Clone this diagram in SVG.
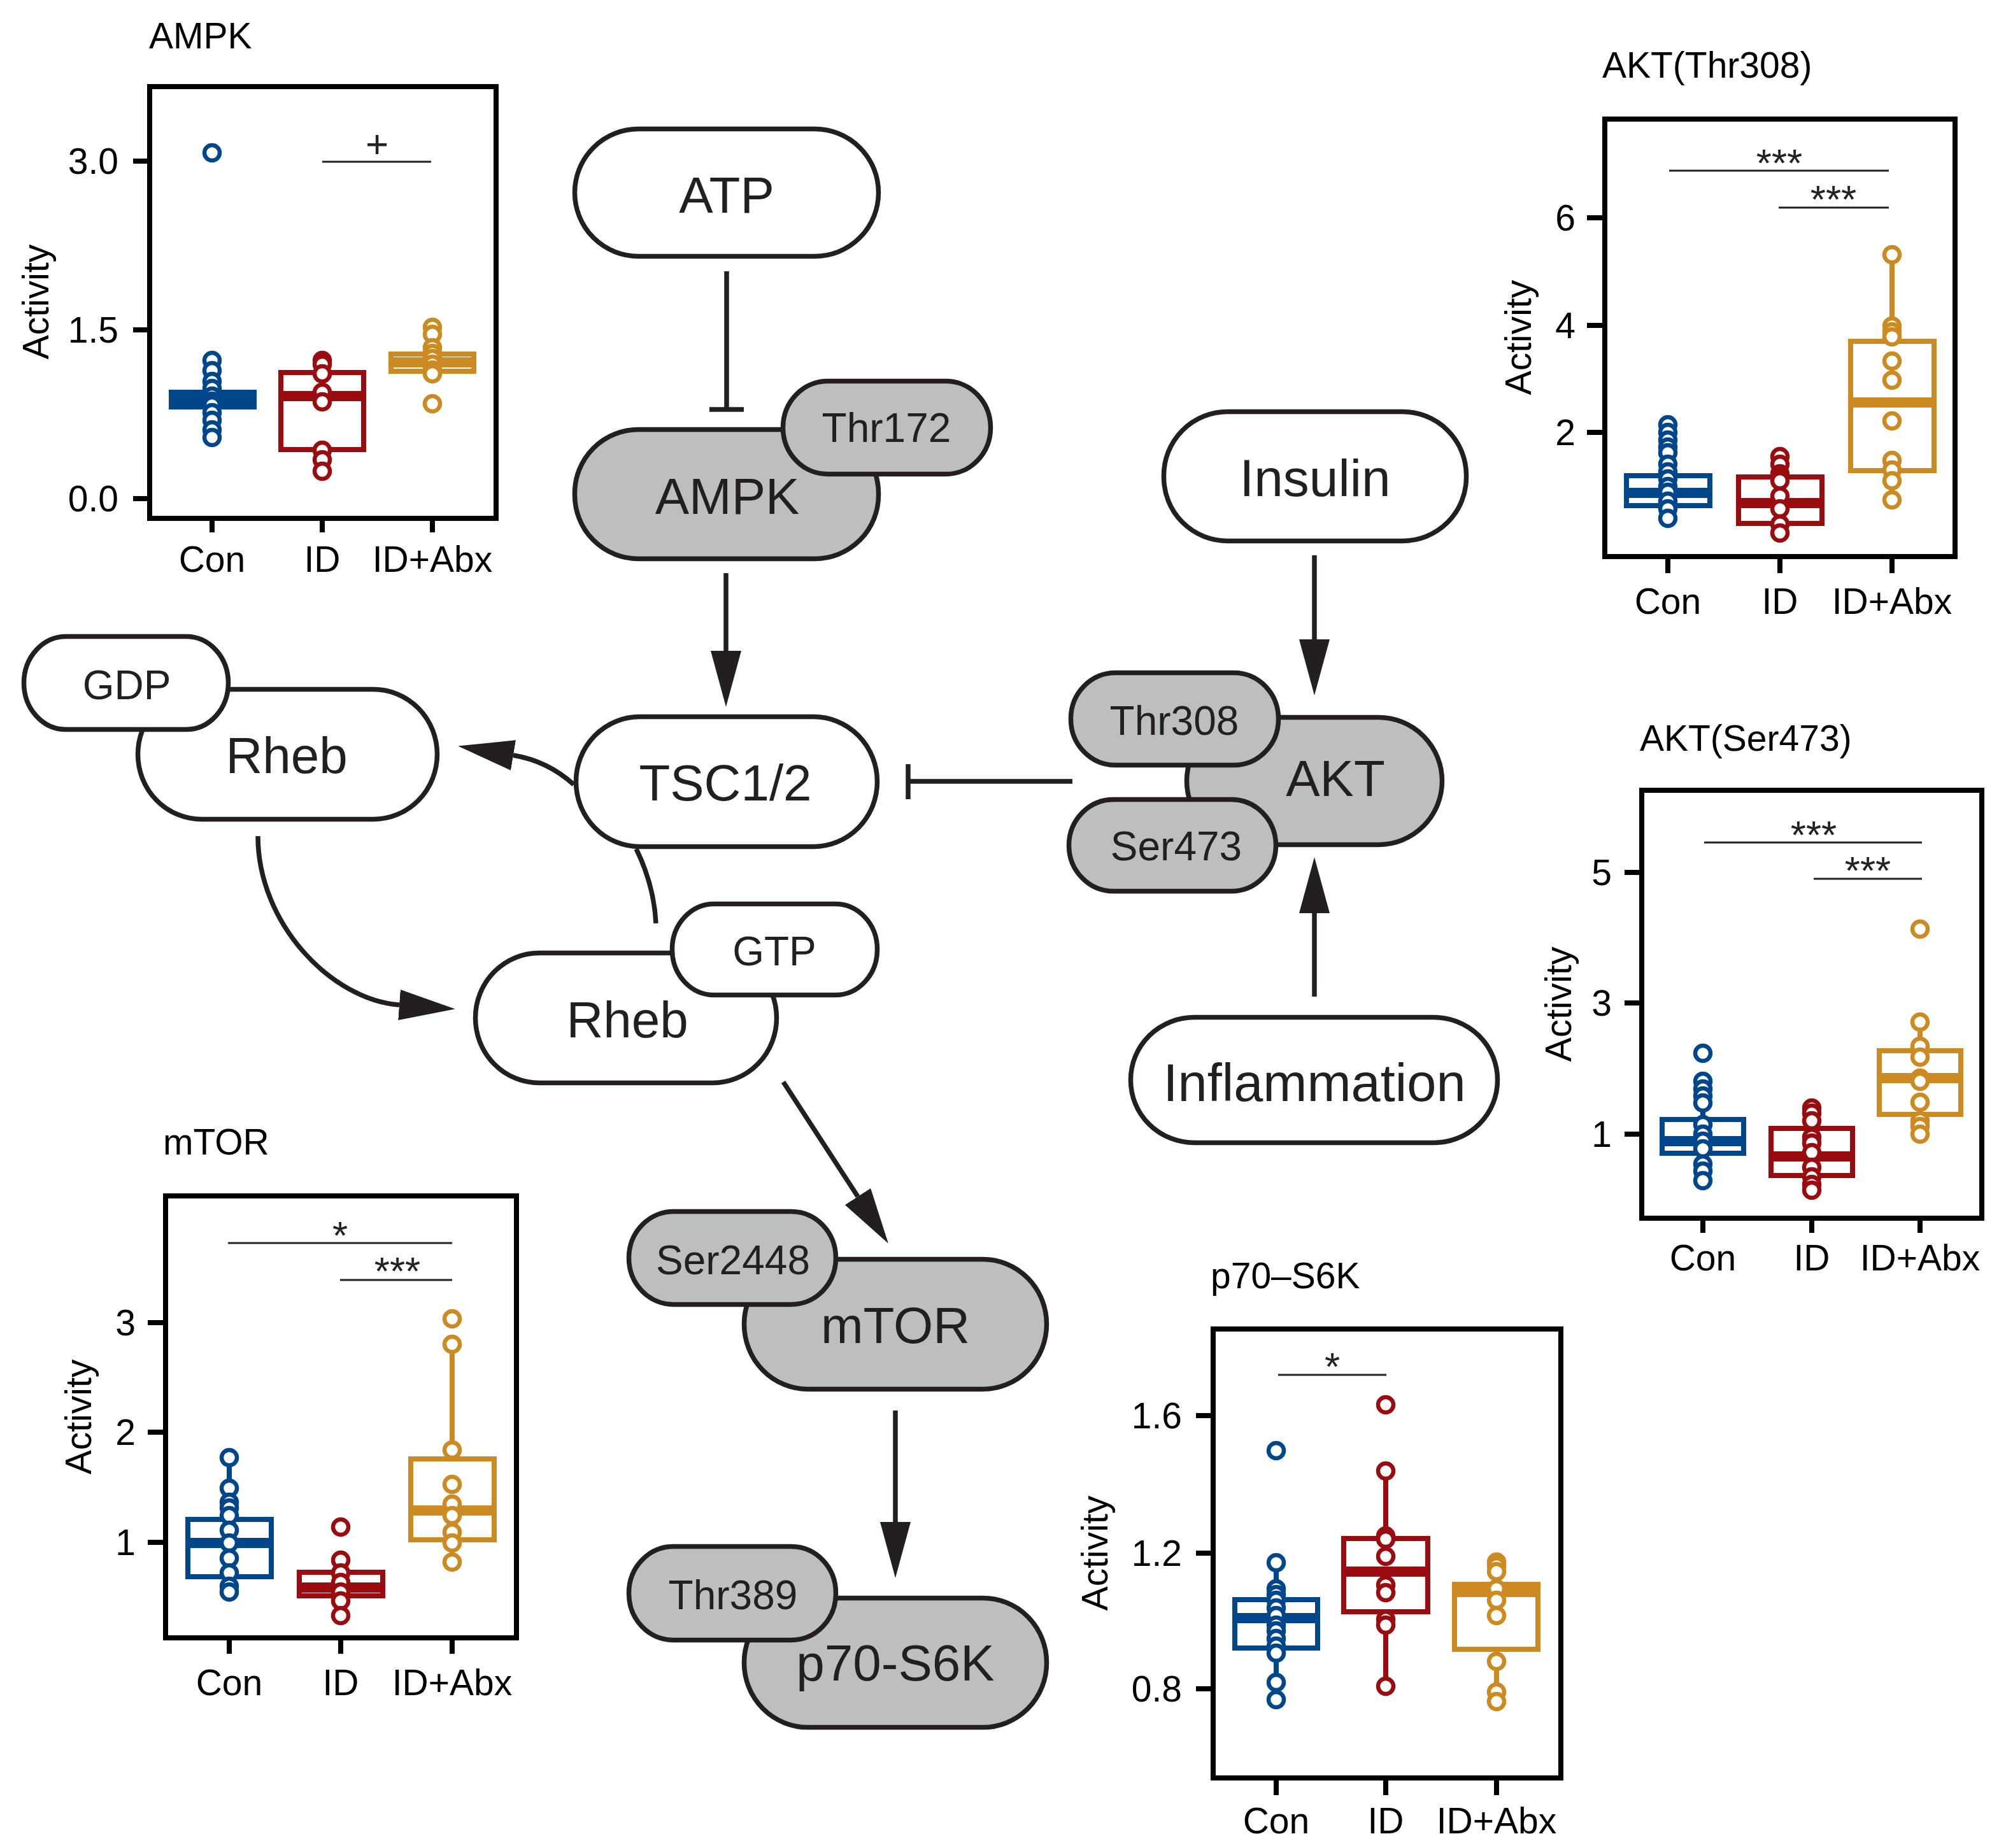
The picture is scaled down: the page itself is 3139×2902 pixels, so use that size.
<svg xmlns="http://www.w3.org/2000/svg" width="3139" height="2902" viewBox="0 0 3139 2902">
<style>
.fr{fill:none;stroke:#000;stroke-width:8}
.tk{stroke:#000;stroke-width:8}
.t{font-family:"Liberation Sans",Arial,Helvetica,sans-serif;font-size:57px;fill:#000}
.e{text-anchor:end}
.m{text-anchor:middle}
.b{stroke:#00468b}
.r{stroke:#990c10}
.g{stroke:#cc8a22}
.bx{fill:none;stroke-width:8}
.md{stroke-width:16}
.wk{stroke-width:8}
.pt circle{fill:#fff;stroke-width:6.5}
.sg{stroke:#222;stroke-width:3}
.st{font-family:"Liberation Sans",Arial,sans-serif;font-size:62px;fill:#222;text-anchor:middle}
.nw{fill:#fff;stroke:#231f20;stroke-width:7.5}
.ng{fill:#bcbec0;stroke:#231f20;stroke-width:7.5}
.nt{font-family:"Liberation Sans",Arial,Helvetica,sans-serif;font-size:80px;fill:#231f20;text-anchor:middle}
.ns{font-family:"Liberation Sans",Arial,Helvetica,sans-serif;font-size:64px;fill:#231f20;text-anchor:middle}
.cn{fill:none;stroke:#231f20;stroke-width:7.5}
</style>
<defs>
<marker id="ah" markerUnits="userSpaceOnUse" markerWidth="88" markerHeight="48" viewBox="0 0 88 48" refX="0" refY="24" orient="auto">
<path d="M0,0 L88,24 L0,48 Z" fill="#231f20"/>
</marker>
</defs>
<rect width="3139" height="2902" fill="#fff"/>

<!-- Connectors -->
<g id="connectors">
<line class="cn" x1="1141" y1="426" x2="1141" y2="643"/>
<line class="cn" x1="1114" y1="643" x2="1168" y2="643"/>
<line class="cn" x1="1140" y1="900" x2="1140" y2="1022" marker-end="url(#ah)"/>
<line class="cn" x1="2064" y1="872" x2="2064" y2="1004" marker-end="url(#ah)"/>
<line class="cn" x1="2064" y1="1565" x2="2064" y2="1434" marker-end="url(#ah)"/>
<line class="cn" x1="1230" y1="1699" x2="1347" y2="1879" marker-end="url(#ah)"/>
<line class="cn" x1="1406" y1="2215" x2="1406" y2="2390" marker-end="url(#ah)"/>
<path class="cn" d="M901,1232 Q860,1195 806,1186" marker-end="url(#ah)"/>
<path class="cn" d="M405,1313 C405,1450 520,1570 627,1578" marker-end="url(#ah)"/>
<path class="cn" d="M999,1333 Q1027,1390 1030,1450"/>
<line class="cn" x1="1684" y1="1227" x2="1426" y2="1227"/>
<line class="cn" x1="1426" y1="1200" x2="1426" y2="1255"/>
</g>

<!-- Nodes -->
<g id="atp"><rect class="nw" x="902.5" y="202.5" width="477" height="200" rx="100" ry="100"/><text class="nt" x="1141" y="334">ATP</text></g>
<g id="ampk"><rect class="ng" x="902.5" y="674.5" width="477" height="203" rx="100" ry="100"/><text class="nt" x="1142" y="807">AMPK</text></g>
<g id="thr172"><rect class="ng" x="1229.5" y="598.5" width="326" height="146" rx="70" ry="73"/><text class="ns" x="1392" y="694">Thr172</text></g>
<g id="rheb-gdp"><rect class="nw" x="216.5" y="1082.5" width="470" height="204" rx="100" ry="102"/><text class="nt" x="450" y="1214">Rheb</text></g>
<g id="gdp"><rect class="nw" x="37.5" y="999.5" width="321" height="146" rx="66" ry="73"/><text class="ns" x="199" y="1098">GDP</text></g>
<g id="tsc"><rect class="nw" x="904.5" y="1125.5" width="473" height="204" rx="100" ry="102"/><text class="nt" x="1139" y="1257">TSC1/2</text></g>
<g id="rheb-gtp"><rect class="nw" x="746.5" y="1496.5" width="473" height="204" rx="100" ry="102"/><text class="nt" x="985" y="1629">Rheb</text></g>
<g id="gtp"><rect class="nw" x="1055.5" y="1419.5" width="322" height="143" rx="66" ry="71"/><text class="ns" x="1216" y="1516">GTP</text></g>
<g id="insulin"><rect class="nw" x="1827.5" y="646.5" width="475" height="203" rx="100" ry="100"/><text class="nt" x="2065" y="779" style="font-size:82px">Insulin</text></g>
<g id="akt"><rect class="ng" x="1863.5" y="1126.5" width="401" height="200" rx="100" ry="100"/><text class="nt" x="2097" y="1250">AKT</text></g>
<g id="thr308"><rect class="ng" x="1681.5" y="1056.5" width="326" height="145" rx="70" ry="72"/><text class="ns" x="1844" y="1154">Thr308</text></g>
<g id="ser473"><rect class="ng" x="1678.5" y="1255.5" width="325" height="144" rx="70" ry="72"/><text class="ns" x="1847" y="1351">Ser473</text></g>
<g id="inflammation"><rect class="nw" x="1775.5" y="1597.5" width="576" height="197" rx="100" ry="98"/><text class="nt" x="2064" y="1729" style="font-size:83px">Inflammation</text></g>
<g id="mtor"><rect class="ng" x="1168.5" y="1977.5" width="475" height="204" rx="100" ry="102"/><text class="nt" x="1406" y="2109">mTOR</text></g>
<g id="ser2448"><rect class="ng" x="987.5" y="1902.5" width="325" height="146" rx="70" ry="73"/><text class="ns" x="1151" y="2001">Ser2448</text></g>
<g id="p70"><rect class="ng" x="1168.5" y="2509.5" width="475" height="203" rx="100" ry="101"/><text class="nt" x="1406" y="2639">p70-S6K</text></g>
<g id="thr389"><rect class="ng" x="987.5" y="2428.5" width="325" height="147" rx="70" ry="73"/><text class="ns" x="1151" y="2527">Thr389</text></g>

<!-- AMPK plot -->
<g id="plot-ampk">
<text class="t" x="234" y="76">AMPK</text>
<rect class="fr" x="235" y="136" width="544" height="678"/>
<line class="tk" x1="209" y1="253" x2="235" y2="253"/><line class="tk" x1="209" y1="518" x2="235" y2="518"/><line class="tk" x1="209" y1="783" x2="235" y2="783"/>
<text class="t e" x="186" y="273">3.0</text><text class="t e" x="186" y="538">1.5</text><text class="t e" x="186" y="803">0.0</text>
<line class="tk" x1="333" y1="814" x2="333" y2="836"/><line class="tk" x1="506" y1="814" x2="506" y2="836"/><line class="tk" x1="679" y1="814" x2="679" y2="836"/>
<text class="t m" x="333" y="898">Con</text><text class="t m" x="506" y="898">ID</text><text class="t m" x="679" y="898">ID+Abx</text>
<text class="t m" transform="translate(76,474) rotate(-90)">Activity</text>
<line class="sg" x1="506" y1="254" x2="677" y2="254"/><text class="st" x="592" y="247">+</text>
<g class="b"><line class="wk" x1="333" y1="616" x2="333" y2="566"/><line class="wk" x1="333" y1="639" x2="333" y2="687"/><rect class="bx" x="269" y="616" width="130" height="23"/><line class="md" x1="269" y1="628" x2="399" y2="628"/>
<g class="pt"><circle cx="333" cy="240" r="12"/><circle cx="333" cy="566" r="12"/><circle cx="333" cy="582" r="12"/><circle cx="333" cy="599" r="12"/><circle cx="333" cy="610" r="12"/><circle cx="333" cy="622" r="12"/><circle cx="333" cy="630" r="12"/><circle cx="333" cy="636" r="12"/><circle cx="333" cy="648" r="12"/><circle cx="333" cy="660" r="12"/><circle cx="333" cy="675" r="12"/><circle cx="333" cy="687" r="12"/></g></g>
<g class="r"><line class="wk" x1="506" y1="585" x2="506" y2="566"/><line class="wk" x1="506" y1="706" x2="506" y2="740"/><rect class="bx" x="441" y="585" width="130" height="121"/><line class="md" x1="441" y1="622" x2="571" y2="622"/>
<g class="pt"><circle cx="506" cy="566" r="12"/><circle cx="506" cy="572" r="12"/><circle cx="506" cy="587" r="12"/><circle cx="506" cy="616" r="12"/><circle cx="506" cy="631" r="12"/><circle cx="506" cy="707" r="12"/><circle cx="506" cy="722" r="12"/><circle cx="506" cy="740" r="12"/></g></g>
<g class="g"><line class="wk" x1="679" y1="556" x2="679" y2="514"/><line class="wk" x1="679" y1="583" x2="679" y2="587"/><rect class="bx" x="614" y="556" width="130" height="27"/><line class="md" x1="614" y1="569" x2="744" y2="569"/>
<g class="pt"><circle cx="679" cy="514" r="12"/><circle cx="679" cy="525" r="12"/><circle cx="679" cy="546" r="12"/><circle cx="679" cy="555" r="12"/><circle cx="679" cy="563" r="12"/><circle cx="679" cy="572" r="12"/><circle cx="679" cy="581" r="12"/><circle cx="679" cy="587" r="12"/><circle cx="679" cy="634" r="12"/></g></g>
</g>

<!-- AKT(Thr308) plot -->
<g id="plot-thr308">
<text class="t" x="2516" y="122">AKT(Thr308)</text>
<rect class="fr" x="2520" y="187" width="550" height="687"/>
<line class="tk" x1="2492" y1="342" x2="2520" y2="342"/><line class="tk" x1="2492" y1="511" x2="2520" y2="511"/><line class="tk" x1="2492" y1="679" x2="2520" y2="679"/>
<text class="t e" x="2474" y="362">6</text><text class="t e" x="2474" y="531">4</text><text class="t e" x="2474" y="699">2</text>
<line class="tk" x1="2619" y1="874" x2="2619" y2="900"/><line class="tk" x1="2795" y1="874" x2="2795" y2="900"/><line class="tk" x1="2971" y1="874" x2="2971" y2="900"/>
<text class="t m" x="2619" y="964">Con</text><text class="t m" x="2795" y="964">ID</text><text class="t m" x="2971" y="964">ID+Abx</text>
<text class="t m" transform="translate(2404,530) rotate(-90)">Activity</text>
<line class="sg" x1="2621" y1="268" x2="2966" y2="268"/><text class="st" x="2794" y="277">***</text>
<line class="sg" x1="2793" y1="326" x2="2966" y2="326"/><text class="st" x="2879" y="334">***</text>
<g class="b"><line class="wk" x1="2619" y1="747" x2="2619" y2="667"/><line class="wk" x1="2619" y1="794" x2="2619" y2="814"/><rect class="bx" x="2554" y="747" width="131" height="47"/><line class="md" x1="2554" y1="774" x2="2685" y2="774"/>
<g class="pt"><circle cx="2619" cy="667" r="12"/><circle cx="2619" cy="679" r="12"/><circle cx="2619" cy="691" r="12"/><circle cx="2619" cy="702" r="12"/><circle cx="2619" cy="711" r="12"/><circle cx="2619" cy="729" r="12"/><circle cx="2619" cy="741" r="12"/><circle cx="2619" cy="752" r="12"/><circle cx="2619" cy="764" r="12"/><circle cx="2619" cy="773" r="12"/><circle cx="2619" cy="787" r="12"/><circle cx="2619" cy="799" r="12"/><circle cx="2619" cy="814" r="12"/></g></g>
<g class="r"><line class="wk" x1="2795" y1="749" x2="2795" y2="717"/><line class="wk" x1="2795" y1="822" x2="2795" y2="837"/><rect class="bx" x="2730" y="749" width="131" height="73"/><line class="md" x1="2730" y1="790" x2="2861" y2="790"/>
<g class="pt"><circle cx="2795" cy="717" r="12"/><circle cx="2795" cy="729" r="12"/><circle cx="2795" cy="744" r="12"/><circle cx="2795" cy="749" r="12"/><circle cx="2795" cy="755" r="12"/><circle cx="2795" cy="779" r="12"/><circle cx="2795" cy="799" r="12"/><circle cx="2795" cy="823" r="12"/><circle cx="2795" cy="837" r="12"/></g></g>
<g class="g"><line class="wk" x1="2971" y1="536" x2="2971" y2="400"/><line class="wk" x1="2971" y1="739" x2="2971" y2="785"/><rect class="bx" x="2906" y="536" width="131" height="203"/><line class="md" x1="2906" y1="632" x2="3037" y2="632"/>
<g class="pt"><circle cx="2971" cy="400" r="12"/><circle cx="2971" cy="512" r="12"/><circle cx="2971" cy="521" r="12"/><circle cx="2971" cy="529" r="12"/><circle cx="2971" cy="567" r="12"/><circle cx="2971" cy="597" r="12"/><circle cx="2971" cy="661" r="12"/><circle cx="2971" cy="723" r="12"/><circle cx="2971" cy="738" r="12"/><circle cx="2971" cy="755" r="12"/><circle cx="2971" cy="785" r="12"/></g></g>
</g>

<!-- AKT(Ser473) plot -->
<g id="plot-ser473">
<text class="t" x="2575" y="1179">AKT(Ser473)</text>
<rect class="fr" x="2578" y="1241" width="534" height="672"/>
<line class="tk" x1="2551" y1="1370" x2="2578" y2="1370"/><line class="tk" x1="2551" y1="1575" x2="2578" y2="1575"/><line class="tk" x1="2551" y1="1781" x2="2578" y2="1781"/>
<text class="t e" x="2531" y="1390">5</text><text class="t e" x="2531" y="1595">3</text><text class="t e" x="2531" y="1801">1</text>
<line class="tk" x1="2674" y1="1913" x2="2674" y2="1936"/><line class="tk" x1="2845" y1="1913" x2="2845" y2="1936"/><line class="tk" x1="3015" y1="1913" x2="3015" y2="1936"/>
<text class="t m" x="2674" y="1995">Con</text><text class="t m" x="2845" y="1995">ID</text><text class="t m" x="3015" y="1995">ID+Abx</text>
<text class="t m" transform="translate(2467,1577) rotate(-90)">Activity</text>
<line class="sg" x1="2676" y1="1323" x2="3018" y2="1323"/><text class="st" x="2848" y="1332">***</text>
<line class="sg" x1="2848" y1="1380" x2="3018" y2="1380"/><text class="st" x="2933" y="1388">***</text>
<g class="b"><line class="wk" x1="2674" y1="1758" x2="2674" y2="1698"/><line class="wk" x1="2674" y1="1811" x2="2674" y2="1854"/><rect class="bx" x="2610" y="1758" width="128" height="53"/><line class="md" x1="2610" y1="1792" x2="2738" y2="1792"/>
<g class="pt"><circle cx="2674" cy="1654" r="12"/><circle cx="2674" cy="1698" r="12"/><circle cx="2674" cy="1710" r="12"/><circle cx="2674" cy="1721" r="12"/><circle cx="2674" cy="1732" r="12"/><circle cx="2674" cy="1766" r="12"/><circle cx="2674" cy="1781" r="12"/><circle cx="2674" cy="1792" r="12"/><circle cx="2674" cy="1804" r="12"/><circle cx="2674" cy="1828" r="12"/><circle cx="2674" cy="1839" r="12"/><circle cx="2674" cy="1854" r="12"/></g></g>
<g class="r"><line class="wk" x1="2845" y1="1772" x2="2845" y2="1740"/><line class="wk" x1="2845" y1="1846" x2="2845" y2="1869"/><rect class="bx" x="2781" y="1772" width="128" height="74"/><line class="md" x1="2781" y1="1816" x2="2909" y2="1816"/>
<g class="pt"><circle cx="2845" cy="1740" r="12"/><circle cx="2845" cy="1748" r="12"/><circle cx="2845" cy="1760" r="12"/><circle cx="2845" cy="1786" r="12"/><circle cx="2845" cy="1795" r="12"/><circle cx="2845" cy="1810" r="12"/><circle cx="2845" cy="1833" r="12"/><circle cx="2845" cy="1848" r="12"/><circle cx="2845" cy="1860" r="12"/><circle cx="2845" cy="1869" r="12"/></g></g>
<g class="g"><line class="wk" x1="3015" y1="1650" x2="3015" y2="1605"/><line class="wk" x1="3015" y1="1750" x2="3015" y2="1781"/><rect class="bx" x="2951" y="1650" width="128" height="100"/><line class="md" x1="2951" y1="1693" x2="3079" y2="1693"/>
<g class="pt"><circle cx="3015" cy="1459" r="12"/><circle cx="3015" cy="1605" r="12"/><circle cx="3015" cy="1643" r="12"/><circle cx="3015" cy="1660" r="12"/><circle cx="3015" cy="1693" r="12"/><circle cx="3015" cy="1698" r="12"/><circle cx="3015" cy="1731" r="12"/><circle cx="3015" cy="1760" r="12"/><circle cx="3015" cy="1769" r="12"/><circle cx="3015" cy="1781" r="12"/></g></g>
</g>

<!-- mTOR plot -->
<g id="plot-mtor">
<text class="t" x="256" y="1813">mTOR</text>
<rect class="fr" x="260" y="1878" width="551" height="694"/>
<line class="tk" x1="232" y1="2077" x2="260" y2="2077"/><line class="tk" x1="232" y1="2249" x2="260" y2="2249"/><line class="tk" x1="232" y1="2422" x2="260" y2="2422"/>
<text class="t e" x="213" y="2097">3</text><text class="t e" x="213" y="2269">2</text><text class="t e" x="213" y="2442">1</text>
<line class="tk" x1="360" y1="2572" x2="360" y2="2597"/><line class="tk" x1="535" y1="2572" x2="535" y2="2597"/><line class="tk" x1="710" y1="2572" x2="710" y2="2597"/>
<text class="t m" x="360" y="2662">Con</text><text class="t m" x="535" y="2662">ID</text><text class="t m" x="710" y="2662">ID+Abx</text>
<text class="t m" transform="translate(143,2225) rotate(-90)">Activity</text>
<line class="sg" x1="358" y1="1952" x2="710" y2="1952"/><text class="st" x="534" y="1961">*</text>
<line class="sg" x1="534" y1="2010" x2="710" y2="2010"/><text class="st" x="624" y="2017">***</text>
<g class="b"><line class="wk" x1="360" y1="2386" x2="360" y2="2289"/><line class="wk" x1="360" y1="2476" x2="360" y2="2500"/><rect class="bx" x="295" y="2386" width="131" height="90"/><line class="md" x1="295" y1="2423" x2="426" y2="2423"/>
<g class="pt"><circle cx="360" cy="2289" r="12"/><circle cx="360" cy="2337" r="12"/><circle cx="360" cy="2359" r="12"/><circle cx="360" cy="2368" r="12"/><circle cx="360" cy="2380" r="12"/><circle cx="360" cy="2403" r="12"/><circle cx="360" cy="2423" r="12"/><circle cx="360" cy="2447" r="12"/><circle cx="360" cy="2470" r="12"/><circle cx="360" cy="2491" r="12"/><circle cx="360" cy="2500" r="12"/></g></g>
<g class="r"><line class="wk" x1="535" y1="2469" x2="535" y2="2450"/><line class="wk" x1="535" y1="2506" x2="535" y2="2537"/><rect class="bx" x="470" y="2469" width="131" height="37"/><line class="md" x1="470" y1="2493" x2="601" y2="2493"/>
<g class="pt"><circle cx="535" cy="2398" r="12"/><circle cx="535" cy="2450" r="12"/><circle cx="535" cy="2470" r="12"/><circle cx="535" cy="2485" r="12"/><circle cx="535" cy="2500" r="12"/><circle cx="535" cy="2514" r="12"/><circle cx="535" cy="2537" r="12"/></g></g>
<g class="g"><line class="wk" x1="710" y1="2291" x2="710" y2="2111"/><line class="wk" x1="710" y1="2418" x2="710" y2="2453"/><rect class="bx" x="645" y="2291" width="131" height="127"/><line class="md" x1="645" y1="2372" x2="776" y2="2372"/>
<g class="pt"><circle cx="710" cy="2071" r="12"/><circle cx="710" cy="2111" r="12"/><circle cx="710" cy="2277" r="12"/><circle cx="710" cy="2331" r="12"/><circle cx="710" cy="2362" r="12"/><circle cx="710" cy="2380" r="12"/><circle cx="710" cy="2406" r="12"/><circle cx="710" cy="2423" r="12"/><circle cx="710" cy="2453" r="12"/></g></g>
</g>

<!-- p70-S6K plot -->
<g id="plot-p70">
<text class="t" x="1901" y="2023">p70–S6K</text>
<rect class="fr" x="1905" y="2087" width="546" height="705"/>
<line class="tk" x1="1878" y1="2223" x2="1905" y2="2223"/><line class="tk" x1="1878" y1="2439" x2="1905" y2="2439"/><line class="tk" x1="1878" y1="2652" x2="1905" y2="2652"/>
<text class="t e" x="1856" y="2243">1.6</text><text class="t e" x="1856" y="2459">1.2</text><text class="t e" x="1856" y="2672">0.8</text>
<line class="tk" x1="2004" y1="2792" x2="2004" y2="2819"/><line class="tk" x1="2176" y1="2792" x2="2176" y2="2819"/><line class="tk" x1="2350" y1="2792" x2="2350" y2="2819"/>
<text class="t m" x="2004" y="2879">Con</text><text class="t m" x="2176" y="2879">ID</text><text class="t m" x="2350" y="2879">ID+Abx</text>
<text class="t m" transform="translate(1739,2439) rotate(-90)">Activity</text>
<line class="sg" x1="2007" y1="2159" x2="2177" y2="2159"/><text class="st" x="2092" y="2167">*</text>
<g class="b"><line class="wk" x1="2004" y1="2512" x2="2004" y2="2454"/><line class="wk" x1="2004" y1="2588" x2="2004" y2="2669"/><rect class="bx" x="1939" y="2512" width="130" height="76"/><line class="md" x1="1939" y1="2541" x2="2069" y2="2541"/>
<g class="pt"><circle cx="2004" cy="2278" r="12"/><circle cx="2004" cy="2454" r="12"/><circle cx="2004" cy="2495" r="12"/><circle cx="2004" cy="2504" r="12"/><circle cx="2004" cy="2513" r="12"/><circle cx="2004" cy="2525" r="12"/><circle cx="2004" cy="2537" r="12"/><circle cx="2004" cy="2552" r="12"/><circle cx="2004" cy="2561" r="12"/><circle cx="2004" cy="2573" r="12"/><circle cx="2004" cy="2585" r="12"/><circle cx="2004" cy="2596" r="12"/><circle cx="2004" cy="2642" r="12"/><circle cx="2004" cy="2669" r="12"/></g></g>
<g class="r"><line class="wk" x1="2176" y1="2416" x2="2176" y2="2310"/><line class="wk" x1="2176" y1="2531" x2="2176" y2="2648"/><rect class="bx" x="2110" y="2416" width="132" height="115"/><line class="md" x1="2110" y1="2468" x2="2242" y2="2468"/>
<g class="pt"><circle cx="2176" cy="2206" r="12"/><circle cx="2176" cy="2310" r="12"/><circle cx="2176" cy="2412" r="12"/><circle cx="2176" cy="2417" r="12"/><circle cx="2176" cy="2444" r="12"/><circle cx="2176" cy="2489" r="12"/><circle cx="2176" cy="2501" r="12"/><circle cx="2176" cy="2543" r="12"/><circle cx="2176" cy="2552" r="12"/><circle cx="2176" cy="2648" r="12"/></g></g>
<g class="g"><line class="wk" x1="2350" y1="2488" x2="2350" y2="2453"/><line class="wk" x1="2350" y1="2590" x2="2350" y2="2672"/><rect class="bx" x="2284" y="2488" width="131" height="102"/><line class="md" x1="2284" y1="2500" x2="2415" y2="2500"/>
<g class="pt"><circle cx="2350" cy="2453" r="12"/><circle cx="2350" cy="2459" r="12"/><circle cx="2350" cy="2468" r="12"/><circle cx="2350" cy="2495" r="12"/><circle cx="2350" cy="2513" r="12"/><circle cx="2350" cy="2537" r="12"/><circle cx="2350" cy="2609" r="12"/><circle cx="2350" cy="2657" r="12"/><circle cx="2350" cy="2672" r="12"/></g></g>
</g>
</svg>
